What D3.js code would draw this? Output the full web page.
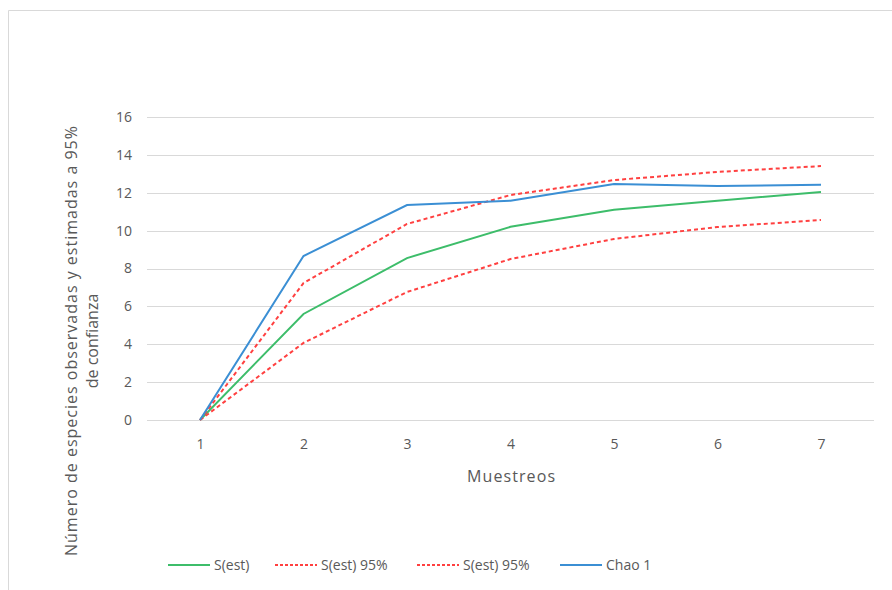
<!DOCTYPE html>
<html>
<head>
<meta charset="utf-8">
<script src="https://cdn.jsdelivr.net/npm/d3@7"></script>
<style>
  body { margin: 0; background: #fff; }
  text { font-family: "Open Sans", "Liberation Sans", sans-serif; fill: #595959; }
</style>
</head>
<body>
<div id="chart"></div>
<script>
// data
const muestreos = [1, 2, 3, 4, 5, 6, 7];
const sEst      = [0, 5.6, 8.55, 10.2, 11.1, 11.58, 12.04];
const sEstUpper = [0, 7.23, 10.35, 11.88, 12.67, 13.1, 13.41];
const sEstLower = [0, 4.07, 6.76, 8.5, 9.56, 10.19, 10.56];
const chao1     = [0, 8.66, 11.35, 11.58, 12.46, 12.35, 12.42];
const yTicks    = [0, 2, 4, 6, 8, 10, 12, 14, 16];

const series = [
  { name: "S(est)",     values: sEst,      color: "#3dbd6a", dash: null },
  { name: "S(est) 95%", values: sEstUpper, color: "#ff4040", dash: "4,3" },
  { name: "S(est) 95%", values: sEstLower, color: "#ff4040", dash: "4,3" },
  { name: "Chao 1",     values: chao1,     color: "#3b8fd4", dash: null }
];

const W = 892, H = 590;
const svg = d3.select("#chart").append("svg").attr("width", W).attr("height", H);

// outer frame (only top/left visible in crop)
svg.append("path")
  .attr("d", "M8.5,590 L8.5,10.5 L892,10.5")
  .attr("fill", "none").attr("stroke", "#d9d9d9");

const plotLeft = 147, plotRight = 874;
const x = d3.scalePoint().domain(muestreos).range([200, 821]);
const y = d3.scaleLinear().domain([0, 16]).range([420, 117]);

// gridlines
svg.append("g").selectAll("line").data(yTicks).enter().append("line")
  .attr("x1", plotLeft).attr("x2", plotRight)
  .attr("y1", d => Math.round(y(d)) + 0.5).attr("y2", d => Math.round(y(d)) + 0.5)
  .attr("stroke", "#d9d9d9").attr("stroke-width", 1);

// y axis labels
const yAxis = svg.append("g").attr("transform", `translate(${plotLeft},0)`)
  .call(d3.axisLeft(y).tickValues(yTicks).tickSize(0).tickPadding(15));
yAxis.select(".domain").remove();
yAxis.selectAll("text").attr("font-size", "14px").attr("fill", "#595959")
  .style("font-family", "'Open Sans', sans-serif");

// x axis labels
const xAxis = svg.append("g").attr("transform", "translate(0,420)")
  .call(d3.axisBottom(x).tickSize(0).tickPadding(19));
xAxis.select(".domain").remove();
xAxis.selectAll("text").attr("font-size", "14px").attr("fill", "#595959")
  .style("font-family", "'Open Sans', sans-serif");

// lines
const line = d3.line().x((d, i) => x(muestreos[i])).y(d => y(d));
series.forEach(s => {
  svg.append("path")
    .datum(s.values)
    .attr("d", line)
    .attr("fill", "none")
    .attr("stroke", s.color)
    .attr("stroke-width", 2)
    .attr("stroke-dasharray", s.dash);
});

// axis titles
svg.append("text")
  .attr("x", 511).attr("y", 482)
  .attr("text-anchor", "middle").attr("font-size", "16px")
  .attr("textLength", 88).attr("lengthAdjust", "spacing")
  .text("Muestreos");

const yTitle = svg.append("text")
  .attr("transform", "translate(77,341) rotate(-90)")
  .attr("text-anchor", "middle").attr("font-size", "16px");
yTitle.append("tspan").attr("x", 0).attr("dy", 0)
  .attr("textLength", 430).attr("lengthAdjust", "spacing")
  .text("Número de especies  observadas y estimadas a 95%");
yTitle.append("tspan").attr("x", 0).attr("dy", "1.3em")
  .text("de confianza");

// legend
const legendX = [168, 275, 417, 560];
const legend = svg.append("g");
series.forEach((s, i) => {
  const g = legend.append("g").attr("transform", `translate(${legendX[i]},565)`);
  g.append("line").attr("x1", 0).attr("x2", 42).attr("y1", 0).attr("y2", 0)
    .attr("stroke", s.color).attr("stroke-width", 2)
    .attr("stroke-dasharray", s.dash ? "3,2" : null);
  g.append("text").attr("x", 46).attr("y", 5).attr("font-size", "14px").text(s.name);
});
</script>
</body>
</html>
